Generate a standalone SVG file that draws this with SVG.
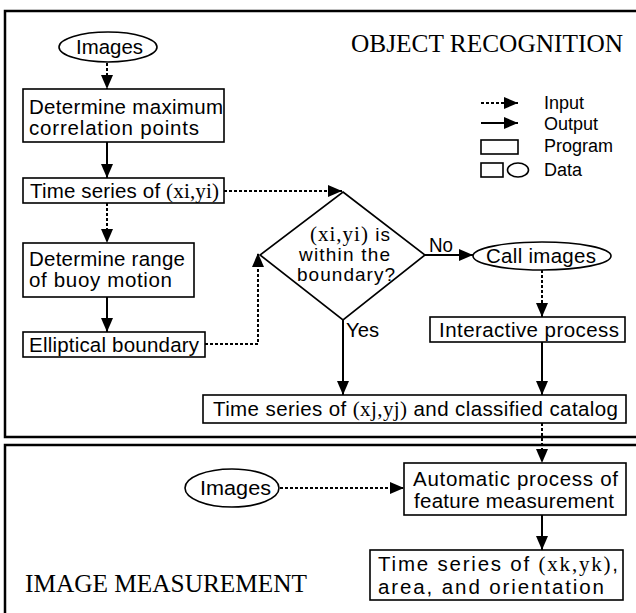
<svg xmlns="http://www.w3.org/2000/svg" width="636" height="613" viewBox="0 0 636 613">
  <defs>
    <style>
      .frame { fill: none; stroke: #000; stroke-width: 2.5; }
      .box { fill: #fff; stroke: #000; stroke-width: 1.6; }
      .txt { font-family: "Liberation Sans", Arial, sans-serif; font-size: 20.5px; fill: #000; }
      .dtx { font-family: "Liberation Sans", Arial, sans-serif; font-size: 19px; fill: #000; }
      .leg { font-family: "Liberation Sans", Arial, sans-serif; font-size: 18px; fill: #000; }
      .ser { font-family: "Liberation Serif", "Times New Roman", serif; font-size: 21px; }
      .title { font-family: "Liberation Serif", "Times New Roman", serif; font-size: 26px; fill: #000; }
      .solid { fill: none; stroke: #000; stroke-width: 2; marker-end: url(#head); }
      .dot { fill: none; stroke: #000; stroke-width: 2; stroke-dasharray: 3 2; marker-end: url(#head); }
    </style>
    <marker id="head" viewBox="0 0 14 12" refX="14" refY="6" markerWidth="14" markerHeight="12" markerUnits="userSpaceOnUse" orient="auto">
      <path d="M0,0 L14,6 L0,12 z" fill="#000"/>
    </marker>
  </defs>
  <rect width="636" height="613" fill="#fff"/>

  <!-- section frames -->
  <g id="frames">
    <path class="frame" d="M636,11 H5 V437 H636"/>
    <path class="frame" d="M636,445 H5 V613"/>
    <text class="title" x="351" y="52" textLength="272" lengthAdjust="spacingAndGlyphs">OBJECT RECOGNITION</text>
    <text class="title" x="25" y="592" textLength="282" lengthAdjust="spacingAndGlyphs">IMAGE MEASUREMENT</text>
  </g>

  <!-- legend -->
  <g id="legend">
    <line class="dot" x1="481" y1="103" x2="518" y2="103"/>
    <line class="solid" x1="481" y1="123" x2="518" y2="123"/>
    <rect class="box" x="481" y="140" width="37" height="14" stroke-width="1.2"/>
    <rect class="box" x="481" y="163" width="22" height="14" stroke-width="1.2"/>
    <ellipse class="box" cx="518" cy="170" rx="10.5" ry="7" stroke-width="1.2"/>
    <text class="leg" x="544" y="109">Input</text>
    <text class="leg" x="544" y="130">Output</text>
    <text class="leg" x="544" y="152">Program</text>
    <text class="leg" x="544" y="176">Data</text>
  </g>

  <!-- connectors -->
  <g id="connectors">
    <line class="dot" x1="107" y1="63" x2="107" y2="89"/>
    <line class="solid" x1="107" y1="142" x2="107" y2="178"/>
    <line class="dot" x1="224" y1="191" x2="342" y2="191"/>
    <line class="dot" x1="107" y1="203" x2="107" y2="243"/>
    <line class="solid" x1="107" y1="297" x2="107" y2="332"/>
    <polyline class="dot" points="205,344 258,344 258,253"/>
    <line class="solid" x1="425" y1="255" x2="473" y2="255"/>
    <line class="dot" x1="542" y1="270" x2="542" y2="317"/>
    <line class="solid" x1="542" y1="342" x2="542" y2="395"/>
    <line class="solid" x1="343" y1="320" x2="343" y2="395"/>
    <line class="dot" x1="542" y1="423" x2="542" y2="463"/>
    <line class="dot" x1="280" y1="488" x2="404" y2="488"/>
    <line class="solid" x1="542" y1="515" x2="542" y2="550"/>
    <text class="txt" x="429" y="252" textLength="24" lengthAdjust="spacingAndGlyphs">No</text>
    <text class="txt" x="346" y="337" textLength="33" lengthAdjust="spacingAndGlyphs">Yes</text>
  </g>

  <!-- nodes -->
  <g id="images-top">
    <ellipse class="box" cx="108" cy="47" rx="49" ry="15"/>
    <text class="txt" x="76" y="54" textLength="67" lengthAdjust="spacingAndGlyphs">Images</text>
  </g>
  <g id="max-correlation">
    <rect class="box" x="23" y="89" width="201" height="53"/>
    <text class="txt" x="29" y="114" textLength="194" lengthAdjust="spacing">Determine maximum</text>
    <text class="txt" x="29" y="135" textLength="170" lengthAdjust="spacing">correlation points</text>
  </g>
  <g id="series-xi">
    <rect class="box" x="23" y="178" width="201" height="25"/>
    <text class="txt" x="30" y="198" textLength="189" lengthAdjust="spacing">Time series of <tspan class="ser">(xi,yi)</tspan></text>
  </g>
  <g id="buoy-range">
    <rect class="box" x="23" y="243" width="171" height="54"/>
    <text class="txt" x="29" y="266" textLength="156" lengthAdjust="spacing">Determine range</text>
    <text class="txt" x="29" y="287" textLength="143" lengthAdjust="spacing">of buoy motion</text>
  </g>
  <g id="elliptical">
    <rect class="box" x="23" y="332" width="182" height="25"/>
    <text class="txt" x="29" y="352" textLength="170" lengthAdjust="spacing">Elliptical boundary</text>
  </g>
  <g id="decision">
    <polygon class="box" points="343,192 425,255 343,320 260,255"/>
    <text class="dtx" x="310" y="241" textLength="80" lengthAdjust="spacing"><tspan class="ser" font-size="20">(xi,yi)</tspan> is</text>
    <text class="dtx" x="299" y="261" textLength="91" lengthAdjust="spacing">within the</text>
    <text class="dtx" x="297" y="281" textLength="98" lengthAdjust="spacing">boundary?</text>
  </g>
  <g id="call-images">
    <ellipse class="box" cx="542" cy="256" rx="69" ry="14"/>
    <text class="txt" x="486" y="263" textLength="110" lengthAdjust="spacing">Call images</text>
  </g>
  <g id="interactive">
    <rect class="box" x="430" y="317" width="195" height="25"/>
    <text class="txt" x="439" y="337" textLength="180" lengthAdjust="spacing">Interactive process</text>
  </g>
  <g id="series-xj">
    <rect class="box" x="203" y="395" width="423" height="28"/>
    <text class="txt" x="213" y="416" textLength="405" lengthAdjust="spacing">Time series of <tspan class="ser">(xj,yj)</tspan> and classified catalog</text>
  </g>
  <g id="images-bottom">
    <ellipse class="box" cx="232" cy="488" rx="47" ry="19"/>
    <text class="txt" x="200" y="495" textLength="71" lengthAdjust="spacingAndGlyphs">Images</text>
  </g>
  <g id="feature-measurement">
    <rect class="box" x="404" y="463" width="222" height="52"/>
    <text class="txt" x="413" y="486" textLength="205" lengthAdjust="spacing">Automatic process of</text>
    <text class="txt" x="414" y="508" textLength="200" lengthAdjust="spacing">feature measurement</text>
  </g>
  <g id="series-xk">
    <rect class="box" x="370" y="550" width="253" height="50"/>
    <text class="txt" x="378" y="571" textLength="240" lengthAdjust="spacing">Time series of <tspan class="ser">(xk,yk)</tspan>,</text>
    <text class="txt" x="378" y="594" textLength="226" lengthAdjust="spacing">area, and orientation</text>
  </g>
</svg>
